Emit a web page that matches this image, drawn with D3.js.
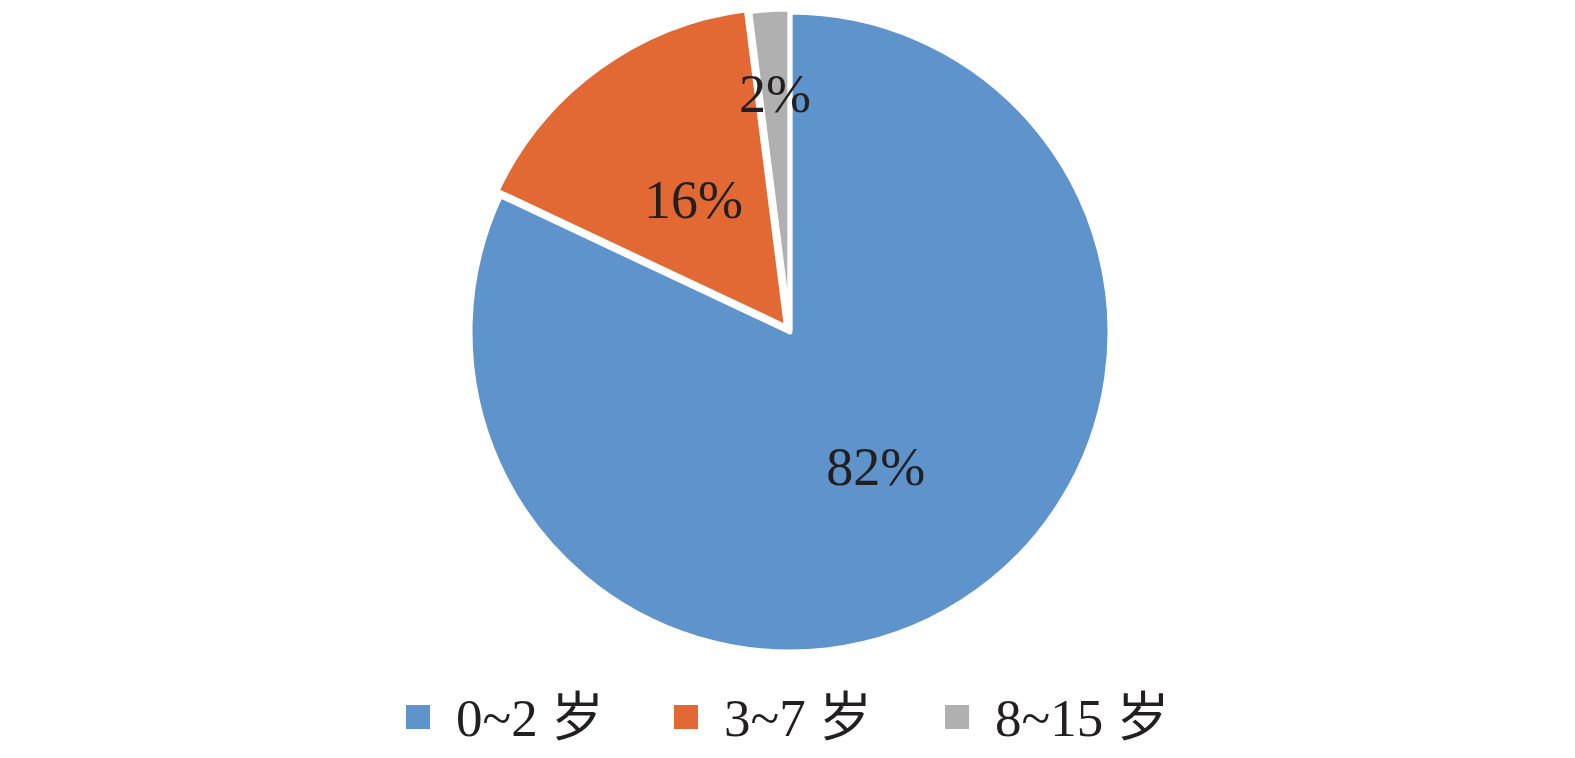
<!DOCTYPE html>
<html>
<head>
<meta charset="utf-8">
<script src="https://cdn.jsdelivr.net/npm/d3@7/dist/d3.min.js"></script>
<style>
  html, body { margin: 0; padding: 0; background: #fff; }
  svg { display: block; }
  text { font-family: "Liberation Serif", "Times New Roman", "Noto Sans CJK SC", serif; fill: #231f20; }
</style>
</head>
<body>
<svg id="chart" width="1575" height="758"></svg>
<script>
const categories = ["0~2 岁", "3~7 岁", "8~15 岁"];
const values = [82, 16, 2];
const valueLabels = ["82%", "16%", "2%"];
const colors = ["#5e93cc", "#e36934", "#b0b0b0"];

const W = 1575, H = 758;
const cx = 790, cy = 332, R = 320;
const explode = [0, 6, 3];
const labelRadius = [160, 158, 236];

const svg = d3.select("#chart");
const g = svg.append("g").attr("transform", `translate(${cx},${cy})`);

const pie = d3.pie().sort(null).value(d => d).startAngle(0).endAngle(2 * Math.PI);
const arcs = pie(values);
const arc = d3.arc().innerRadius(0).outerRadius(R);

const slices = g.selectAll("g.slice").data(arcs).enter().append("g")
  .attr("class", "slice")
  .attr("transform", (d, i) => {
    const a = (d.startAngle + d.endAngle) / 2;
    return `translate(${Math.sin(a) * explode[i]},${-Math.cos(a) * explode[i]})`;
  });

slices.append("path")
  .attr("d", arc)
  .attr("fill", (d, i) => colors[i])
  .attr("stroke", "#fff")
  .attr("stroke-width", 5)
  .attr("stroke-linejoin", "round");

slices.append("text")
  .attr("transform", (d, i) => {
    const la = d3.arc().innerRadius(labelRadius[i]).outerRadius(labelRadius[i]);
    const [x, y] = la.centroid(d);
    return `translate(${x},${y})`;
  })
  .attr("text-anchor", "middle")
  .attr("dy", "0.34em")
  .style("font-size", "54px")
  .text((d, i) => valueLabels[i]);

// Legend
const legendX = [418, 686, 957];
const legendY = 717;
const legend = svg.selectAll("g.legend").data(categories).enter().append("g")
  .attr("class", "legend")
  .attr("transform", (d, i) => `translate(${legendX[i]},${legendY})`);

legend.append("rect")
  .attr("x", -12).attr("y", -12)
  .attr("width", 24).attr("height", 24)
  .attr("fill", (d, i) => colors[i]);

legend.append("text")
  .attr("x", 38)
  .attr("y", 0)
  .attr("dy", "0.36em")
  .style("font-size", "53px")
  .text(d => d);
</script>
</body>
</html>
